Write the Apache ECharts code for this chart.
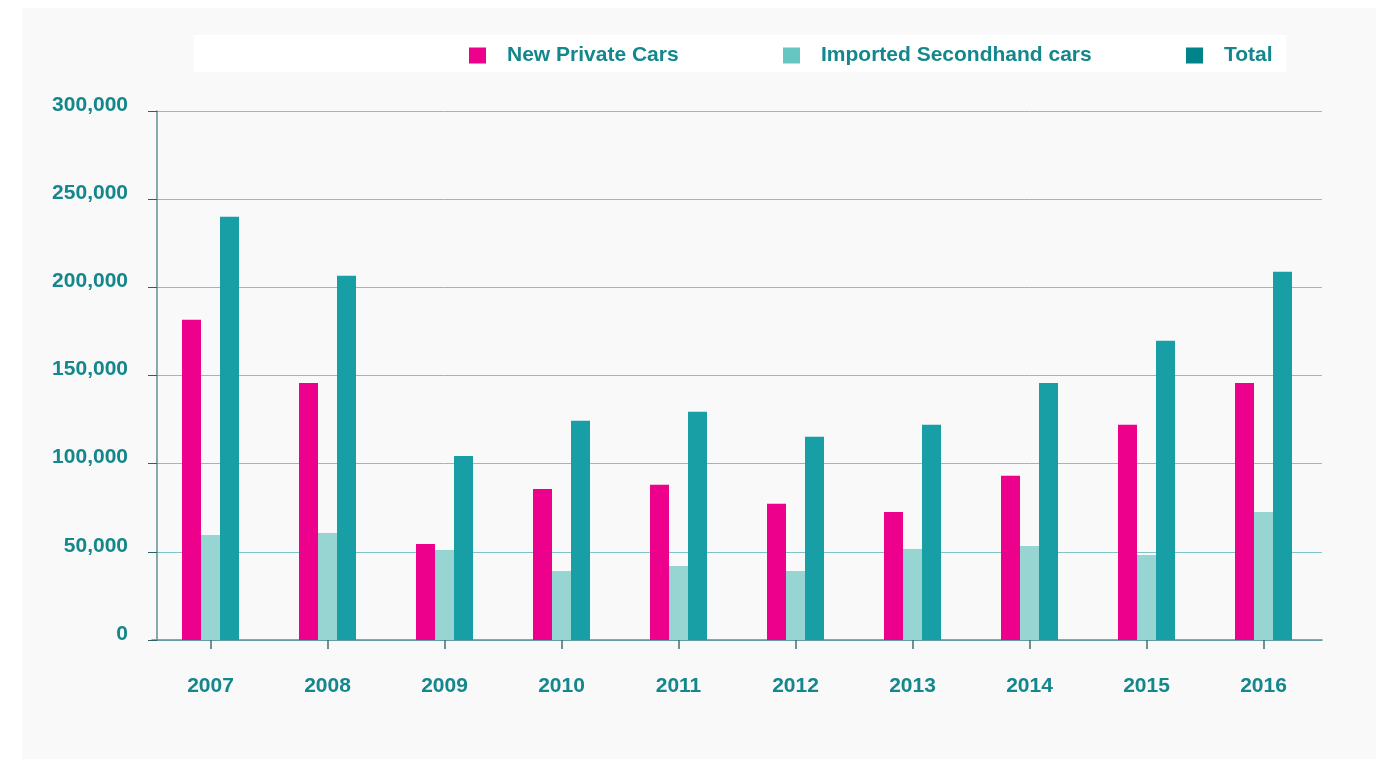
<!DOCTYPE html>
<html>
<head>
<meta charset="utf-8">
<script src="https://cdn.jsdelivr.net/npm/echarts@6/dist/echarts.min.js"></script>
<style>
  html, body { margin: 0; padding: 0; background: #ffffff; }
  #chart { width: 1391px; height: 759px; }
</style>
</head>
<body>
<div id="chart"></div>
<script>
  // data
  var years = ['2007', '2008', '2009', '2010', '2011', '2012', '2013', '2014', '2015', '2016'];
  var newPrivateCars = [181600, 145800, 54500, 85700, 88000, 77200, 72600, 93100, 122000, 145800];
  var importedSecondhand = [59600, 60700, 51100, 39200, 42000, 39200, 51600, 53300, 48200, 72600];
  var total = [240000, 206600, 104400, 124300, 129400, 115200, 122000, 145800, 169700, 208800];

  var teal = '#13878c';
  var font = '"Liberation Sans", Arial, sans-serif';

  var myChart = echarts.init(document.getElementById('chart'));

  function legendItem(name, color, left) {
    return {
      left: left,
      top: 40,
      itemWidth: 17,
      itemHeight: 16,
      itemGap: 0,
      icon: 'rect',
      textStyle: { color: teal, fontSize: 21, fontWeight: 'bold', fontFamily: font, padding: [0, 0, 0, 16] },
      data: [{ name: name, itemStyle: { color: color } }]
    };
  }

  var option = {
    animation: false,
    graphic: [
      { type: 'rect', left: 22, top: 8, shape: { width: 1354, height: 751 }, style: { fill: '#f9f9f9' }, z: -10 },
      { type: 'rect', left: 194, top: 35, shape: { width: 1092, height: 37 }, style: { fill: '#ffffff' }, z: -9 }
    ],
    legend: [
      legendItem('New Private Cars', '#ec008c', 464),
      legendItem('Imported Secondhand cars', '#66c6c2', 778),
      legendItem('Total', '#008489', 1181)
    ],
    grid: { left: 152, right: 69, top: 111, bottom: 119 },
    xAxis: {
      type: 'category',
      data: years,
      axisLine: { lineStyle: { color: '#5e8f94', width: 1.5 } },
      axisTick: { show: true, alignWithLabel: true, length: 9, lineStyle: { color: '#3f6f73', width: 1.5 } },
      axisLabel: { color: teal, fontSize: 21, fontWeight: 'bold', fontFamily: font, margin: 36 }
    },
    yAxis: {
      type: 'value',
      min: 0,
      max: 300000,
      interval: 50000,
      offset: -5,
      axisLine: { show: true, lineStyle: { color: '#5e8f94', width: 1.5 } },
      axisTick: { show: true, length: 9, lineStyle: { color: '#2f5f63' } },
      splitLine: { lineStyle: { color: '#7cc4c8', width: 1 } },
      axisLabel: {
        color: teal, fontSize: 21, fontWeight: 'bold', fontFamily: font, margin: 29,
        verticalAlign: 'bottom',
        lineHeight: 12,
        formatter: function (v) { return v.toLocaleString('en-US'); }
      }
    },
    series: [
      { name: 'New Private Cars', type: 'bar', data: newPrivateCars, barWidth: 19, barGap: '0%', itemStyle: { color: '#ec008c' } },
      { name: 'Imported Secondhand cars', type: 'bar', data: importedSecondhand, barWidth: 19, barGap: '0%', itemStyle: { color: '#97d5d2' } },
      { name: 'Total', type: 'bar', data: total, barWidth: 19, barGap: '0%', itemStyle: { color: '#189fa6' } }
    ]
  };

  myChart.setOption(option);
</script>
</body>
</html>
